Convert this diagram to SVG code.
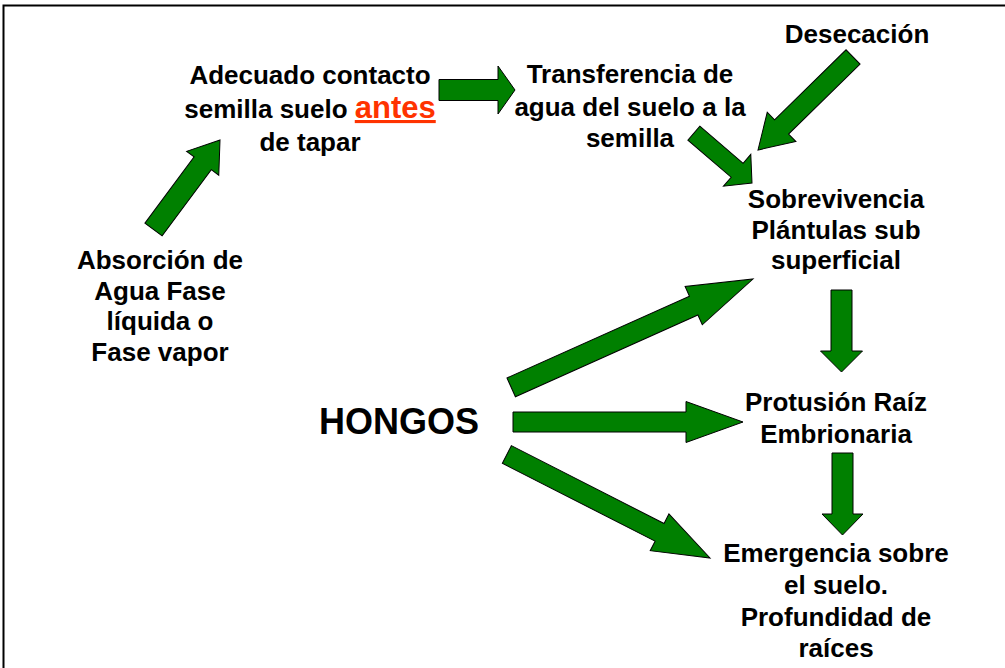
<svg xmlns="http://www.w3.org/2000/svg" width="1005" height="668" viewBox="0 0 1005 668">
<style>
.t{font-family:"Liberation Sans",Arial,sans-serif;font-weight:bold;font-size:26px;fill:#000;text-anchor:middle}
.big{font-size:36px}
.red{fill:#FF3300;text-decoration:underline;font-size:31px}
.arr{fill:#008000;stroke:#000;stroke-width:1;stroke-linejoin:miter}
</style>
<rect width="1005" height="668" fill="#fff"/>
<path d="M3.5,668 V5.5 H1005" fill="none" stroke="#000" stroke-width="2"/>
<g id="connectors">
<polygon class="arr" transform="translate(220,140) rotate(-53.4)" points="-111.5,-10.7 -29,-10.7 -29,-20 0,0 -29,20 -29,10.7 -111.5,10.7"/>
<polygon class="arr" transform="translate(515,90)" points="-76,-10.5 -17,-10.5 -17,-24 0,0 -17,24 -17,10.5 -76,10.5"/>
<polygon class="arr" transform="translate(758,150) rotate(135.6)" points="-133,-10 -33,-10 -33,-20.5 0,0 -33,20.5 -33,10 -133,10"/>
<polygon class="arr" transform="translate(752,183) rotate(40.6)" points="-76.6,-9.2 -19.6,-9.2 -19.6,-21 0,0 -19.6,21 -19.6,9.2 -76.6,9.2"/>
<polygon class="arr" transform="translate(753,279) rotate(-24.15)" points="-265,-10.3 -65,-10.3 -65,-21 0,0 -65,21 -65,10.3 -265,10.3"/>
<polygon class="arr" transform="translate(743,422)" points="-230,-10 -57,-10 -57,-20.5 0,0 -57,20.5 -57,10 -230,10"/>
<polygon class="arr" transform="translate(710,558) rotate(27)" points="-228,-9.9 -56.6,-9.9 -56.6,-20.6 0,0 -56.6,20.6 -56.6,9.9 -228,9.9"/>
<polygon class="arr" transform="translate(841.5,372) rotate(90)" points="-82,-10.5 -21,-10.5 -21,-21 0,0 -21,21 -21,10.5 -82,10.5"/>
<polygon class="arr" transform="translate(842.5,535) rotate(90)" points="-82,-10.5 -21,-10.5 -21,-20.5 0,0 -21,20.5 -21,10.5 -82,10.5"/>
</g>
<g id="adecuado">
<text class="t" x="310" y="84">Adecuado contacto</text>
<text class="t" x="310" y="118">semilla suelo <tspan class="red">antes</tspan></text>
<text class="t" x="310" y="151">de tapar</text>
</g>
<g id="transferencia">
<text class="t" x="630" y="83">Transferencia de</text>
<text class="t" x="630" y="116">agua del suelo a la</text>
<text class="t" x="630" y="147">semilla</text>
</g>
<g id="desecacion">
<text class="t" x="857" y="43">Desecación</text>
</g>
<g id="absorcion">
<text class="t" x="160" y="269">Absorción de</text>
<text class="t" x="160" y="300">Agua Fase</text>
<text class="t" x="160" y="330">líquida o</text>
<text class="t" x="160" y="361">Fase vapor</text>
</g>
<g id="sobrevivencia">
<text class="t" x="836" y="208">Sobrevivencia</text>
<text class="t" x="836" y="239">Plántulas sub</text>
<text class="t" x="836" y="269">superficial</text>
</g>
<g id="hongos">
<text class="t big" x="399" y="434">HONGOS</text>
</g>
<g id="protusion">
<text class="t" x="836" y="411">Protusión Raíz</text>
<text class="t" x="836" y="443">Embrionaria</text>
</g>
<g id="emergencia">
<text class="t" x="836" y="562">Emergencia sobre</text>
<text class="t" x="836" y="594">el suelo.</text>
<text class="t" x="836" y="626">Profundidad de</text>
<text class="t" x="836" y="657">raíces</text>
</g>
</svg>
